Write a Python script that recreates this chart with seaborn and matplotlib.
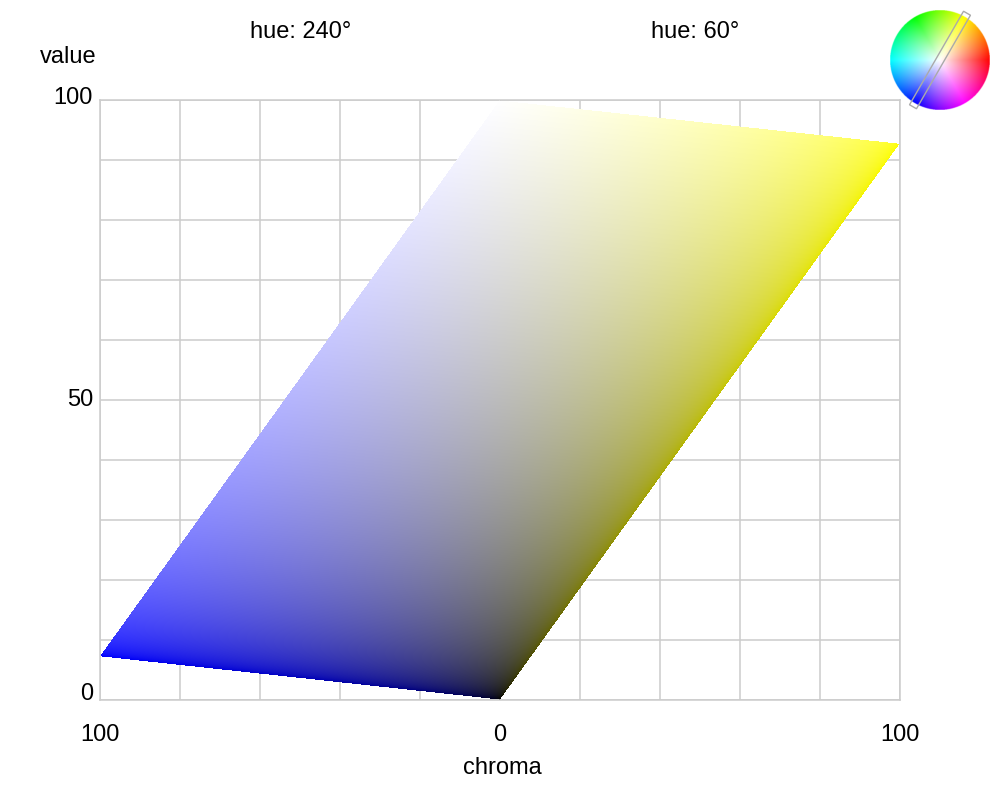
import numpy as np
import matplotlib
matplotlib.use("Agg")
import matplotlib.pyplot as plt
import matplotlib.transforms as mtransforms
import seaborn as sns
from matplotlib.patches import Rectangle
from matplotlib.colors import hsv_to_rgb

# ---- data ----
hue_left = 240          # degrees, drawn on the left half
hue_right = 60          # degrees, drawn on the right half
luma_weights = [0.2126, 0.7152, 0.0722]   # Rec.709 luma
chroma_ticks = [-100, 0, 100]
chroma_labels = ["100", "0", "100"]
value_ticks = [0, 50, 100]
value_labels = ["0", "50", "100"]
chroma_grid = list(range(-100, 101, 20))
value_grid = list(range(0, 101, 10))
titles = ["hue: 240°", "hue: 60°"]

sns.set_theme(style="white")
plt.rcParams["font.family"] = ["Liberation Sans", "DejaVu Sans"]
plt.rcParams["text.color"] = "black"

FS = 17

def hue_rgb(h):
    return hsv_to_rgb([h / 360.0, 1.0, 1.0])

w = np.array(luma_weights)

def srgb_encode(x):
    x = np.clip(x, 0, 1)
    return np.where(x <= 0.0031308, 12.92 * x, 1.055 * np.power(x, 1 / 2.4) - 0.055)

def slice_image(h, nx=800, ny=600):
    base = hue_rgb(h)
    diff = base - np.dot(w, base)
    c = np.linspace(0, 1, nx)[None, :, None]
    v = np.linspace(0, 1, ny)[:, None, None]
    rgb = v + c * diff[None, None, :]
    inside = np.all((rgb >= -1e-9) & (rgb <= 1 + 1e-9), axis=2)
    img = np.zeros((ny, nx, 4))
    img[..., :3] = srgb_encode(rgb)
    img[..., 3] = inside.astype(float)
    return img

fig = plt.figure(figsize=(10, 8), dpi=100)
ax = fig.add_axes([0.1, 0.125, 0.8, 0.75])

img_r = slice_image(hue_right)
img_l = slice_image(hue_left)[:, ::-1, :]
ax.imshow(img_r, extent=[0, 100, 0, 100], origin="lower", aspect="auto",
          interpolation="nearest", zorder=1)
ax.imshow(img_l, extent=[-100, 0, 0, 100], origin="lower", aspect="auto",
          interpolation="nearest", zorder=1)

ax.set_xlim(-100, 100)
ax.set_ylim(0, 100)
ax.set_xticks(chroma_ticks)
ax.set_xticklabels(chroma_labels)
ax.set_yticks(value_ticks)
ax.set_yticklabels(value_labels)
ax.set_xticks(chroma_grid, minor=True)
ax.set_yticks(value_grid, minor=True)
ax.grid(True, which="both", color="#cccccc", linewidth=1.1)
ax.set_axisbelow(True)
ax.tick_params(axis="both", which="both", length=0, labelsize=FS, colors="black")
ax.tick_params(axis="x", pad=17)
ax.tick_params(axis="y", pad=5)
for s in ax.spines.values():
    s.set_color("#cccccc")
    s.set_linewidth(1.1)

# small vertical nudges of the value labels
shifts = {"0": 8, "50": 3, "100": 4}
for lab in ax.get_yticklabels():
    dy = shifts.get(lab.get_text(), 0)
    lab.set_transform(lab.get_transform() +
                      mtransforms.ScaledTranslation(0, dy / 100, fig.dpi_scale_trans))

fig.text(0.068, 1 - 57 / 800, "value", ha="center", va="center", fontsize=FS)
fig.text(0.502, 1 - 768 / 800, "chroma", ha="center", va="center", fontsize=FS)
fig.text(0.301, 1 - 32 / 800, titles[0], ha="center", va="center", fontsize=FS)
fig.text(0.695, 1 - 32 / 800, titles[1], ha="center", va="center", fontsize=FS)

# colour wheel inset
wax = fig.add_axes([0.89, 1 - 110 / 800, 0.1, 0.125])
n = 400
xs = np.linspace(-1, 1, n)
X, Y = np.meshgrid(xs, xs)
R = np.sqrt(X ** 2 + Y ** 2)
H = (np.degrees(np.arctan2(Y, X)) % 360) / 360.0
hsv = np.stack([H, np.clip(R, 0, 1), np.ones_like(R)], axis=-1)
wheel = np.zeros((n, n, 4))
wheel[..., :3] = hsv_to_rgb(hsv)
wheel[..., 3] = (R <= 1).astype(float)
wax.imshow(wheel, extent=[-1, 1, -1, 1], origin="lower", interpolation="bilinear")
ang = np.radians(hue_right)
L, Wd = 2.16, 0.16
x0 = -np.cos(ang) * L / 2 + np.sin(ang) * Wd / 2
y0 = -np.sin(ang) * L / 2 - np.cos(ang) * Wd / 2
wax.add_patch(Rectangle((x0, y0), L, Wd, angle=hue_right, fill=False,
                        edgecolor="#aaaaaa", linewidth=1.0, clip_on=False))
wax.set_xlim(-1, 1)
wax.set_ylim(-1, 1)
wax.set_aspect("equal")
wax.axis("off")

fig.savefig("out.png", dpi=100)
